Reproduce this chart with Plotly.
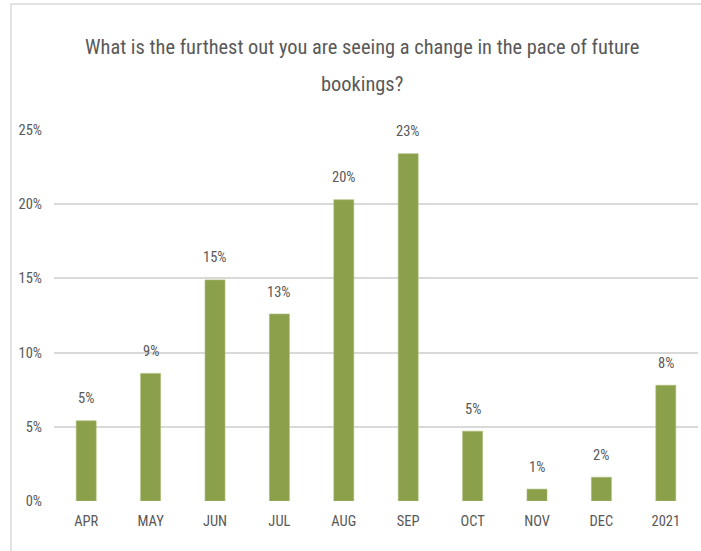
import plotly.graph_objects as go

# Survey responses: furthest month showing a change in booking pace
categories = ["APR", "MAY", "JUN", "JUL", "AUG", "SEP", "OCT", "NOV", "DEC", "2021"]
shares = [0.054, 0.086, 0.149, 0.126, 0.203, 0.234, 0.047, 0.008, 0.016, 0.078]
y_ticks = [0, 0.05, 0.10, 0.15, 0.20, 0.25]
y_tick_labels = ["0%", "5%", "10%", "15%", "20%", "25%"]

title_lines = [
    "What is the furthest out you are seeing a change in the pace of future",
    "bookings?",
]

FONT = "Liberation Sans Narrow, Roboto Condensed, Arial Narrow, sans-serif"
TEXT = "#595959"
GRID = "#d9d9d9"
BAR = "#8ba04b"

fig = go.Figure(
    go.Bar(
        x=categories,
        y=shares,
        marker=dict(color=BAR, line=dict(color="#a9bb74", width=0.6)),
        width=0.31,
        hoverinfo="skip",
    )
)

# value labels above each bar (placed by category index)
for idx, val in enumerate(shares):
    fig.add_annotation(
        x=idx, y=val, text=f"{val:.0%}", showarrow=False,
        yanchor="middle", yshift=22,
        font=dict(family=FONT, size=14.5, color=TEXT),
    )

# two-line chart title
for i, line in enumerate(title_lines):
    fig.add_annotation(
        xref="paper", yref="paper", x=(362 - 54) / 644, y=(501 - (47 + 37 * i)) / 371,
        text=line, showarrow=False, xanchor="center", yanchor="middle",
        font=dict(family=FONT, size=20.4, color=TEXT),
    )

# outer chart frame (top and left edges)
fig.add_shape(
    type="rect", xref="paper", yref="paper",
    x0=(11 - 54) / 644, x1=1.2, y0=-0.5, y1=(501 - 4) / 371,
    line=dict(color=GRID, width=1.5), fillcolor="rgba(0,0,0,0)", layer="below",
)

fig.update_layout(
    width=701, height=551,
    margin=dict(l=54, r=3, t=130, b=50),
    paper_bgcolor="white", plot_bgcolor="white",
    showlegend=False,
    xaxis=dict(
        type="category", range=[-0.5, len(categories) - 0.5],
        showgrid=False, showline=False, zeroline=False,
        tickfont=dict(family=FONT, size=14.5, color=TEXT),
        ticklabelstandoff=9,
    ),
    yaxis=dict(
        range=[0, 0.25], tickvals=y_ticks, ticktext=y_tick_labels,
        showgrid=True, gridcolor=GRID, gridwidth=1.5,
        zeroline=False, showline=False,
        tickfont=dict(family=FONT, size=14.5, color=TEXT),
        ticklabelstandoff=11,
    ),
)

fig.write_html("out.html")
